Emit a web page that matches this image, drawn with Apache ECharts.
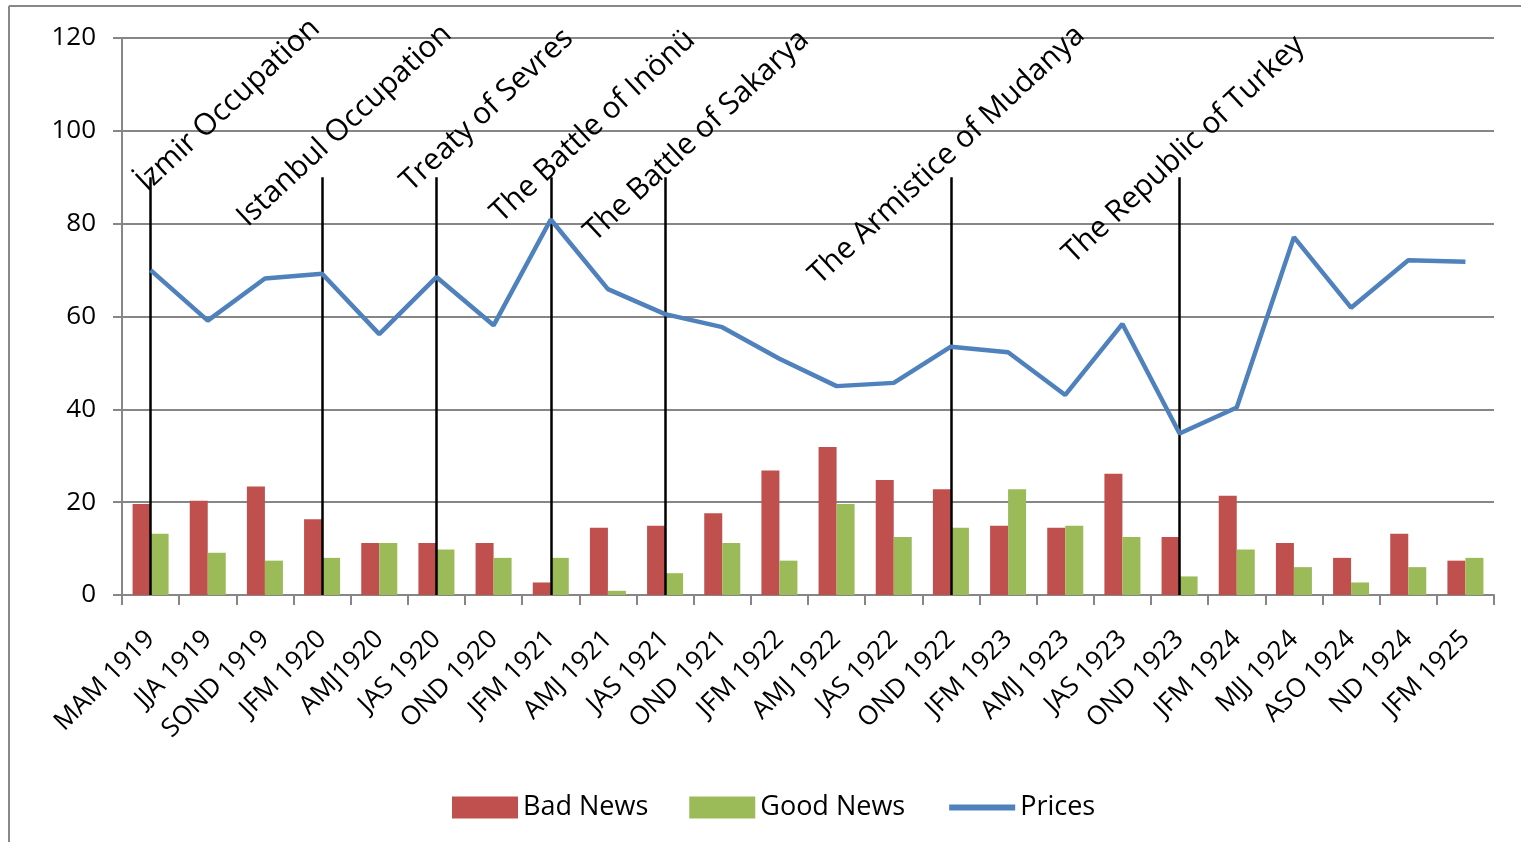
<!DOCTYPE html>
<html>
<head>
<meta charset="utf-8">
<script src="https://cdn.jsdelivr.net/npm/echarts@6/dist/echarts.min.js"></script>
<style>
  html, body { margin: 0; padding: 0; background: #fff; }
  #chart { width: 1521px; height: 842px; }
</style>
</head>
<body>
<div id="chart"></div>
<script>
// quarters on the x axis
const categories = ['MAM 1919', 'JJA 1919', 'SOND 1919', 'JFM 1920', 'AMJ1920', 'JAS 1920', 'OND 1920', 'JFM 1921',
  'AMJ 1921', 'JAS 1921', 'OND 1921', 'JFM 1922', 'AMJ 1922', 'JAS 1922', 'OND 1922', 'JFM 1923', 'AMJ 1923',
  'JAS 1923', 'OND 1923', 'JFM 1924', 'MJJ 1924', 'ASO 1924', 'ND 1924', 'JFM 1925']

const badNews = [19.6, 20.3, 23.4, 16.3, 11.2, 11.2, 11.2, 2.7, 14.5, 14.9, 17.6, 26.8,
  31.9, 24.8, 22.8, 14.9, 14.5, 26.1, 12.5, 21.4, 11.2, 8.0, 13.2, 7.4]
const goodNews = [13.2, 9.1, 7.4, 8.0, 11.2, 9.8, 8.0, 8.0, 0.9, 4.7, 11.2, 7.4,
  19.6, 12.5, 14.5, 22.8, 14.9, 12.5, 4.0, 9.8, 6.0, 2.7, 6.0, 8.0]
const prices = [70.0, 59.1, 68.2, 69.2, 56.2, 68.5, 58.1, 80.9, 65.9, 60.5, 57.7, 50.9,
  45.0, 45.7, 53.5, 52.3, 43.1, 58.4, 34.8, 40.4, 77.1, 61.9, 72.1, 71.8]

// historical events (vertical markers)
const eventCategories = ['MAM 1919', 'JFM 1920', 'JAS 1920', 'JFM 1921', 'JAS 1921', 'OND 1922', 'OND 1923']
const eventNames = ['İzmir Occupation', 'Istanbul Occupation', 'Treaty of Sevres', 'The Battle of Inönü',
  'The Battle of Sakarya', 'The Armistice of Mudanya', 'The Republic of Turkey']
const eventTop = 90

const yTicks = [0, 20, 40, 60, 80, 100, 120]

const FONT = 'Open Sans'
const GRID = '#868686'

const chart = echarts.init(document.getElementById('chart'))

const option = {
  animation: false,
  textStyle: { fontFamily: FONT },
  grid: { left: 122, right: 27, top: 38, bottom: 247 },
  legend: {
    data: [
      { name: 'Bad News', icon: 'rect' },
      { name: 'Good News', icon: 'rect' },
      { name: 'Prices', itemStyle: { opacity: 0 }, lineStyle: { width: 6 } }
    ],
    left: 447,
    top: 789,
    itemWidth: 66,
    itemHeight: 22,
    itemGap: 41,
    textStyle: { fontSize: 27, color: '#000', fontFamily: FONT }
  },
  xAxis: {
    type: 'category',
    data: categories,
    boundaryGap: true,
    axisLine: { lineStyle: { color: GRID, width: 2 } },
    axisTick: { show: true, length: 10, lineStyle: { color: GRID, width: 2 } },
    axisLabel: { rotate: 45, interval: 0, color: '#000', fontSize: 26, margin: 40 }
  },
  yAxis: {
    type: 'value',
    min: yTicks[0],
    max: yTicks[yTicks.length - 1],
    interval: yTicks[1] - yTicks[0],
    axisLine: { show: true, lineStyle: { color: GRID, width: 2 } },
    axisTick: { show: true, length: 9, lineStyle: { color: GRID, width: 2 } },
    axisLabel: { color: '#000', fontSize: 26, margin: 26 },
    splitLine: { lineStyle: { color: GRID, width: 2 } }
  },
  series: [
    {
      name: 'Bad News',
      type: 'bar',
      data: badNews,
      barGap: '0%',
      barCategoryGap: '37%',
      itemStyle: { color: '#C0504D' },
      z: 2
    },
    {
      name: 'Good News',
      type: 'bar',
      data: goodNews,
      itemStyle: { color: '#9BBB59' },
      z: 2
    },
    {
      name: 'Prices',
      type: 'line',
      data: prices,
      symbol: 'none',
      showSymbol: false,
      lineStyle: { color: '#4F81BD', width: 4.5 },
      itemStyle: { color: '#4F81BD' },
      z: 4,
      markLine: {
        z: 3,
        silent: true,
        symbol: ['none', 'none'],
        label: { show: false },
        lineStyle: { color: '#000', width: 2.5, type: 'solid' },
        data: eventCategories.map(c => [{ coord: [c, 0] }, { coord: [c, eventTop] }])
      }
    }
  ]
}

chart.setOption(option)

// 事件标注文字: 以事件竖线顶端为基准的像素偏移
const labelNudge = [[1, 20], [-70, 55], [-21, 20], [-45, 51], [-66, 70], [-127, 113], [-102, 92]]
const graphics = [
  { type: 'line', shape: { x1: 9, y1: 842, x2: 9, y2: 6 }, style: { stroke: '#888', lineWidth: 2 } },
  { type: 'line', shape: { x1: 9, y1: 6, x2: 1521, y2: 6 }, style: { stroke: '#888', lineWidth: 2 } }
]
eventCategories.forEach((c, i) => {
  const [px, py] = chart.convertToPixel({ gridIndex: 0 }, [c, eventTop])
  graphics.push({
    type: 'text',
    x: px + labelNudge[i][0],
    y: py + labelNudge[i][1],
    rotation: 43 * Math.PI / 180,
    z: 10,
    style: {
      text: eventNames[i],
      font: '30px "' + FONT + '"',
      fill: '#000',
      textAlign: 'left',
      textVerticalAlign: 'bottom'
    }
  })
})
chart.setOption({ graphic: graphics })
</script>
</body>
</html>
